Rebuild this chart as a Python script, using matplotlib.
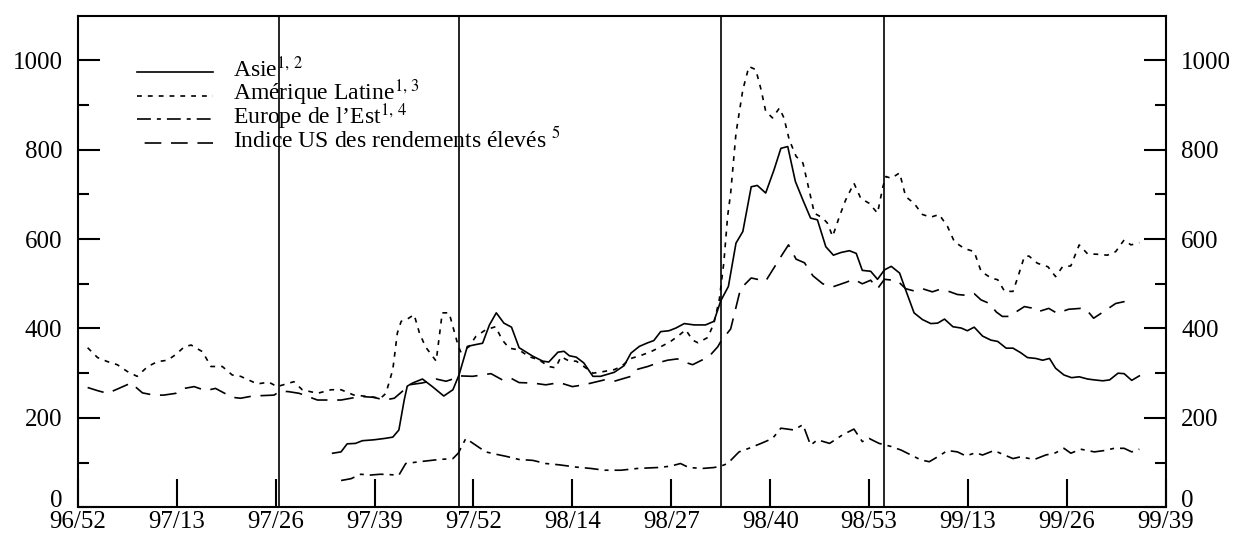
import matplotlib
matplotlib.use("Agg")
import matplotlib.pyplot as plt
from matplotlib.ticker import FixedLocator

plt.rcParams['font.family'] = ['Liberation Serif', 'DejaVu Serif']
plt.rcParams['mathtext.fontset'] = 'stix'
plt.rcParams['lines.scale_dashes'] = False

# ---- data ----
tick_labels = ['96/52', '97/13', '97/26', '97/39', '97/52', '98/14',
               '98/27', '98/40', '98/53', '99/13', '99/26', '99/39']
tick_weeks = [0, 13, 26, 39, 52, 65, 78, 91, 104, 117, 130, 143]
event_weeks = [26.5, 50.1, 84.5, 106.0]

asia_weeks = [33.5, 34.6, 35.4, 36.5, 37.4, 38.9, 40.3, 41.4, 42.2, 42.9, 43.3, 44.0, 45.3, 46.6, 48.1,
              49.3, 50.1, 51.2, 52.3, 53.2, 54.1, 55.0, 56.0, 57.0, 58.0, 59.8, 61.1, 61.9, 63.1, 63.9,
              64.6, 65.5, 66.5, 67.7, 68.7, 70.5, 71.8, 72.7, 73.8, 74.9, 75.7, 76.6, 77.7, 78.6, 79.7,
              81.0, 82.5, 83.6, 84.5, 85.5, 86.5, 87.4, 88.5, 89.3, 90.4, 91.5, 92.4, 93.3, 94.3, 95.3,
              96.3, 97.2, 98.3, 99.3, 100.3, 101.4, 102.3, 103.1, 104.2, 105.1, 106.0, 106.9, 108.0,
              108.8, 109.9, 111.0, 112.1, 113.0, 113.9, 115.0, 116.1, 116.9, 117.8, 118.9, 120.0, 120.9,
              122.0, 122.9, 123.9, 124.8, 125.9, 126.8, 127.7, 128.5, 129.6, 130.6, 131.6, 132.7, 133.6,
              134.7, 135.6, 136.7, 137.5, 138.5, 139.5]
asia_values = [121, 124, 142, 143, 149, 151, 154, 157, 173, 240, 271, 278, 287, 270, 249,
               263, 296, 360, 364, 367, 408, 435, 412, 403, 357, 338, 327, 325, 347, 349,
               339, 336, 323, 293, 293, 302, 317, 345, 360, 368, 373, 393, 395, 401, 411,
               408, 408, 416, 462, 494, 591, 617, 717, 720, 703, 755, 803, 807, 729, 687,
               647, 643, 583, 564, 570, 574, 568, 530, 528, 510, 531, 539, 524,
               486, 435, 420, 411, 412, 421, 404, 401, 395, 403, 383, 374, 371,
               356, 356, 346, 335, 333, 329, 333, 311, 296, 290, 292, 287, 285,
               283, 285, 300, 299, 284, 294]

latam_weeks = [1.3, 2.6, 3.9, 5.2, 6.5, 7.8, 9.2, 10.5, 11.8, 12.9, 14.0, 14.9, 16.4, 17.5, 19.0,
               20.3, 21.4, 23.6, 25.1, 26.2, 28.4, 29.5, 31.5, 33.3, 34.6, 36.3, 38.1, 39.8, 40.5,
               41.4, 42.0, 42.5, 43.3, 44.2, 44.9, 45.7, 47.1, 47.9, 48.8, 49.9, 50.3, 51.4, 52.3,
               53.6, 54.9, 55.8, 56.7, 58.0, 59.3, 60.6, 61.9, 62.8, 63.5, 64.6, 65.5, 66.5, 67.7,
               69.2, 70.5, 71.4, 72.7, 74.2, 75.3, 76.6, 77.9, 78.8, 79.9, 80.8, 81.5, 82.8, 83.6,
               84.3, 84.9, 85.4, 85.8, 86.5, 87.4, 88.2, 89.1, 89.8, 90.4, 91.3, 92.2, 92.8, 93.5,
               94.4, 95.3, 95.9, 96.8, 97.9, 98.5, 99.2, 100.1, 100.9, 102.0, 102.9, 104.0, 105.1,
               105.8, 106.2, 106.9, 108.0, 108.8, 109.9, 111.0, 112.1, 113.2, 114.3, 115.2, 116.5,
               117.8, 118.7, 120.0, 120.9, 121.8, 122.9, 123.5, 124.4, 125.0, 126.1, 127.5, 128.5,
               129.4, 130.5, 131.6, 132.7, 134.0, 135.3, 136.4, 137.5, 138.4, 139.5]
latam_values = [357, 335, 326, 319, 304, 293, 315, 326, 329, 342, 359, 363, 348, 315, 315,
                296, 293, 276, 280, 270, 281, 263, 255, 263, 263, 251, 248, 244, 255,
                308, 390, 416, 421, 431, 390, 359, 327, 435, 435, 367, 348, 359, 382,
                397, 404, 374, 356, 352, 337, 330, 315, 312, 337, 327, 327, 315, 300,
                304, 308, 315, 333, 341, 348, 359, 371, 382, 397, 374, 368, 380, 412,
                464, 547, 651, 703, 837, 934, 986, 979, 934, 886, 871, 893, 871, 822,
                785, 770, 725, 658, 647, 636, 606, 651, 687, 725, 691, 680, 658,
                717, 740, 736, 748, 695, 680, 655, 649, 655, 628, 594, 579,
                572, 528, 513, 509, 483, 483, 513, 561, 562, 546, 538, 516,
                538, 540, 587, 567, 566, 564, 572, 598, 587, 592]

europe_weeks = [34.6, 35.9, 37.2, 38.3, 39.8, 41.1, 42.2, 43.1, 44.9, 47.5, 49.3, 50.0, 51.0, 52.3,
                53.6, 54.9, 56.3, 58.0, 59.8, 61.5, 63.3, 65.5, 67.4, 69.2, 71.4, 73.6, 76.2, 77.9,
                79.2, 80.3, 82.1, 83.6, 84.5, 85.4, 86.9, 88.2, 89.8, 91.3, 92.4, 94.1, 95.3, 96.3,
                97.2, 98.8, 100.5, 102.0, 103.1, 104.0, 105.3, 106.9, 108.2, 109.5, 110.8, 111.9,
                113.0, 114.3, 115.6, 116.7, 118.0, 118.9, 120.4, 122.9, 123.9, 125.7, 127.2, 128.5,
                129.6, 130.5, 131.8, 133.6, 134.9, 136.2, 137.5, 138.5, 139.5]
europe_values = [60, 64, 74, 72, 74, 73, 72, 98, 102, 107, 109, 121, 154, 139,
                 124, 119, 114, 107, 105, 98, 95, 90, 87, 83, 83, 87, 89, 92,
                 98, 89, 87, 89, 92, 98, 124, 132, 143, 154, 177, 173, 185, 139,
                 151, 143, 162, 175, 147, 154, 143, 136, 128, 117, 106, 102,
                 113, 127, 124, 115, 122, 117, 127, 109, 113, 107, 117, 122,
                 132, 121, 130, 124, 127, 132, 132, 124, 130]

us_weeks = [1.3, 2.6, 3.9, 5.4, 7.0, 8.5, 10.0, 11.3, 12.9, 14.0, 15.3, 16.8, 18.1, 19.2, 20.3,
            21.4, 23.0, 25.8, 26.5, 27.6, 29.1, 31.5, 34.6, 35.9, 37.2, 38.9, 40.3, 41.6, 42.9,
            43.5, 45.2, 46.0, 47.1, 48.4, 49.3, 50.1, 51.9, 54.3, 55.8, 56.9, 58.0, 59.8, 61.5,
            63.3, 65.0, 66.5, 69.2, 70.5, 72.7, 73.6, 74.9, 76.2, 77.5, 78.8, 79.9, 80.8, 82.1,
            83.2, 84.1, 84.5, 85.8, 87.1, 88.5, 90.4, 91.5, 92.6, 93.4, 94.4, 95.5, 96.6, 97.9,
            99.2, 100.9, 102.0, 103.1, 104.2, 105.1, 106.0, 107.7, 108.8, 109.9, 111.0, 112.3,
            113.2, 114.3, 115.6, 116.9, 117.8, 118.7, 119.8, 120.7, 121.5, 122.4, 123.3, 124.4,
            125.3, 126.1, 127.6, 128.7, 130.2, 131.8, 132.5, 133.5, 135.1, 136.4, 137.5, 138.4]
us_values = [268, 261, 255, 266, 278, 256, 251, 251, 255, 266, 270, 261, 266, 256, 246,
             244, 249, 251, 259, 259, 255, 240, 240, 244, 248, 246, 240, 244, 263,
             274, 278, 281, 287, 282, 287, 294, 293, 299, 285, 289, 279, 278, 274,
             279, 270, 274, 285, 282, 293, 309, 315, 323, 329, 332, 324, 319, 330,
             342, 359, 371, 399, 489, 513, 506, 536, 566, 587, 555, 547, 518, 500,
             493, 503, 510, 500, 508, 489, 510, 507, 489, 484, 489, 482,
             487, 484, 476, 474, 478, 464, 456, 437, 427, 427, 437, 449,
             446, 437, 445, 434, 443, 445, 443, 423, 441, 456, 460, 460]

series_labels = [r'Asie$^{1,\,2}$', r'Amérique Latine$^{1,\,3}$',
                 r"Europe de l’Est$^{1,\,4}$", r'Indice US des rendements élevés $^{5}$']

# ---- styles ----
styles = [dict(linestyle='-', linewidth=1.2),
          dict(linestyle=(0, (3.5, 4.3)), linewidth=1.2),
          dict(linestyle=(0, (10, 4.3, 2.9, 4.3)), linewidth=1.2),
          dict(linestyle=(0, (12, 7)), linewidth=1.2)]

fig = plt.figure(figsize=(12.38, 5.36), dpi=100)
ax = fig.add_axes([0.0628, 0.0535, 0.879, 0.9175])

for w in event_weeks:
    ax.axvline(w, color='black', linewidth=1.2, zorder=1)

data = [(asia_weeks, asia_values), (latam_weeks, latam_values),
        (europe_weeks, europe_values), (us_weeks, us_values)]
for (xw, yv), st in zip(data, styles):
    ax.plot(xw, yv, color='black', zorder=3, **st)

ax.set_xlim(0, 143)
ax.set_ylim(0, 1100)

ax.xaxis.set_major_locator(FixedLocator(tick_weeks))
ax.set_xticklabels(tick_labels)
ax.yaxis.set_major_locator(FixedLocator([0, 200, 400, 600, 800, 1000]))
ax.yaxis.set_minor_locator(FixedLocator([100, 300, 500, 700, 900]))

ax.tick_params(axis='x', direction='in', length=20, width=1.5, top=False,
               labelsize=18, pad=3)
ax.tick_params(axis='y', which='major', direction='in', length=16, width=1.5,
               left=True, right=True, labelleft=True, labelright=True,
               labelsize=18, pad=11)
ax.tick_params(axis='y', which='minor', direction='in', length=8, width=1.5,
               left=True, right=True)
for sp in ax.spines.values():
    sp.set_linewidth(1.5)

# the "0" labels sit just above the x axis, clear of the date labels
zero_tick = ax.yaxis.get_major_ticks()[0]
zero_tick.label1.set_verticalalignment('baseline')
zero_tick.label2.set_verticalalignment('baseline')

# ---- legend (manual) ----
line_y = [0.8851, 0.8373, 0.7896, 0.7418]
text_y = [0.8750, 0.8272, 0.7794, 0.7316]
for i, (lab, st) in enumerate(zip(series_labels, styles)):
    ls = st['linestyle']
    if i == 3:
        ls = (13.5, (12, 7))
    ax.plot([0.0545, 0.1244], [line_y[i], line_y[i]], transform=ax.transAxes,
            color='black', linewidth=st['linewidth'], linestyle=ls, clip_on=False)
    ax.text(0.1427, text_y[i], lab, transform=ax.transAxes, fontsize=17,
            va='baseline', ha='left')

fig.savefig('out.png', dpi=100)
